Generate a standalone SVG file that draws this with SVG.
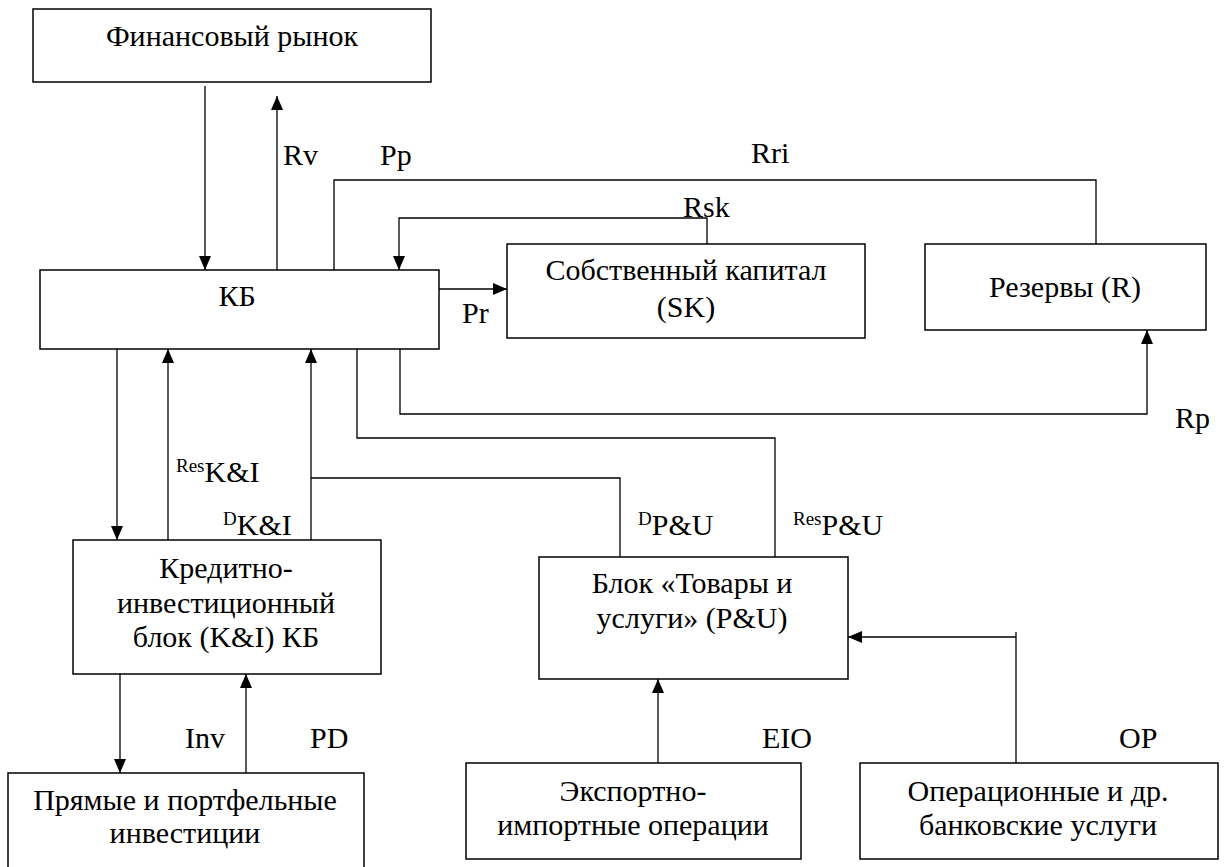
<svg xmlns="http://www.w3.org/2000/svg" width="1225" height="867" viewBox="0 0 1225 867">
<style>
.box{fill:#fff;stroke:#000;stroke-width:1.5}
.ln{fill:none;stroke:#000;stroke-width:1.3}
text{font-family:"Liberation Serif",serif !important;font-size:30px;fill:#000}
.c{text-anchor:middle}
.sup{font-size:19px}
</style>
<defs>
<marker id="ah" markerUnits="userSpaceOnUse" markerWidth="14" markerHeight="12" refX="14" refY="6" orient="auto">
<path d="M0,0 L14,6 L0,12 z" fill="#000"/>
</marker>
</defs>
<rect width="1225" height="867" fill="#fff"/>
<g id="connectors">
<line class="ln" x1="205" y1="86" x2="205" y2="270" marker-end="url(#ah)"/>
<line class="ln" x1="277" y1="270" x2="277" y2="96" marker-end="url(#ah)"/>
<polyline class="ln" points="334,270 334,180 1096,180 1096,244"/>
<polyline class="ln" points="707,244 707,218 399,218 399,270" marker-end="url(#ah)"/>
<line class="ln" x1="439" y1="289" x2="507" y2="289" marker-end="url(#ah)"/>
<polyline class="ln" points="400,349 400,414 1147,414 1147,330" marker-end="url(#ah)"/>
<polyline class="ln" points="357,349 357,438 775,438 775,557"/>
<line class="ln" x1="311" y1="540" x2="311" y2="349" marker-end="url(#ah)"/>
<polyline class="ln" points="311,478 620,478 620,557"/>
<line class="ln" x1="117" y1="349" x2="117" y2="540" marker-end="url(#ah)"/>
<line class="ln" x1="168" y1="540" x2="168" y2="349" marker-end="url(#ah)"/>
<line class="ln" x1="120" y1="674" x2="120" y2="773" marker-end="url(#ah)"/>
<line class="ln" x1="246" y1="773" x2="246" y2="674" marker-end="url(#ah)"/>
<line class="ln" x1="658" y1="763" x2="658" y2="679" marker-end="url(#ah)"/>
<line class="ln" x1="1016" y1="763" x2="1016" y2="632"/>
<line class="ln" x1="1016" y1="637" x2="848" y2="637" marker-end="url(#ah)"/>
</g>
<g id="labels">
<text font-family="Liberation Serif" x="283" y="165">Rv</text>
<text font-family="Liberation Serif" x="380" y="165">Pp</text>
<text font-family="Liberation Serif" x="751" y="163">Rri</text>
<text font-family="Liberation Serif" x="683" y="217">Rsk</text>
<text font-family="Liberation Serif" x="462" y="323">Pr</text>
<text font-family="Liberation Serif" x="1175" y="428">Rp</text>
<text font-family="Liberation Serif" x="176" y="482"><tspan class="sup" dy="-10">Res</tspan><tspan dy="10">K&amp;I</tspan></text>
<text font-family="Liberation Serif" x="223" y="535"><tspan class="sup" dy="-10">D</tspan><tspan dy="10">K&amp;I</tspan></text>
<text font-family="Liberation Serif" x="638" y="535"><tspan class="sup" dy="-10">D</tspan><tspan dy="10">P&amp;U</tspan></text>
<text font-family="Liberation Serif" x="793" y="535"><tspan class="sup" dy="-10">Res</tspan><tspan dy="10">P&amp;U</tspan></text>
<text font-family="Liberation Serif" x="185" y="748">Inv</text>
<text font-family="Liberation Serif" x="310" y="748">PD</text>
<text font-family="Liberation Serif" x="762" y="748">EIO</text>
<text font-family="Liberation Serif" x="1119" y="748">OP</text>
</g>
<g id="fin">
<rect class="box" x="33" y="9" width="398" height="73"/>
<text font-family="Liberation Serif" class="c" x="232" y="46">Финансовый рынок</text>
</g>
<g id="kb">
<rect class="box" x="40" y="270" width="399" height="79"/>
<text font-family="Liberation Serif" class="c" x="237" y="306">КБ</text>
</g>
<g id="sk">
<rect class="box" x="507" y="244" width="358" height="94"/>
<text font-family="Liberation Serif" class="c" x="686" y="280">Собственный капитал</text>
<text font-family="Liberation Serif" class="c" x="686" y="317">(SK)</text>
</g>
<g id="rez">
<rect class="box" x="925" y="244" width="281" height="86"/>
<text font-family="Liberation Serif" class="c" x="1065" y="297">Резервы (R)</text>
</g>
<g id="ki">
<rect class="box" x="73" y="540" width="308" height="134"/>
<text font-family="Liberation Serif" class="c" x="226" y="578">Кредитно-</text>
<text font-family="Liberation Serif" class="c" x="226" y="613">инвестиционный</text>
<text font-family="Liberation Serif" class="c" x="226" y="647">блок (K&amp;I) КБ</text>
</g>
<g id="pu">
<rect class="box" x="539" y="557" width="309" height="122"/>
<text font-family="Liberation Serif" class="c" x="692" y="593">Блок «Товары и</text>
<text font-family="Liberation Serif" class="c" x="692" y="628">услуги» (P&amp;U)</text>
</g>
<g id="pr">
<rect class="box" x="8" y="773" width="356" height="100"/>
<text font-family="Liberation Serif" class="c" x="185" y="810">Прямые и портфельные</text>
<text font-family="Liberation Serif" class="c" x="185" y="843">инвестиции</text>
</g>
<g id="eio">
<rect class="box" x="466" y="763" width="335" height="96"/>
<text font-family="Liberation Serif" class="c" x="633" y="801">Экспортно-</text>
<text font-family="Liberation Serif" class="c" x="633" y="835">импортные операции</text>
</g>
<g id="op">
<rect class="box" x="860" y="763" width="358" height="96"/>
<text font-family="Liberation Serif" class="c" x="1038" y="801">Операционные и др.</text>
<text font-family="Liberation Serif" class="c" x="1038" y="835">банковские услуги</text>
</g>
</svg>
